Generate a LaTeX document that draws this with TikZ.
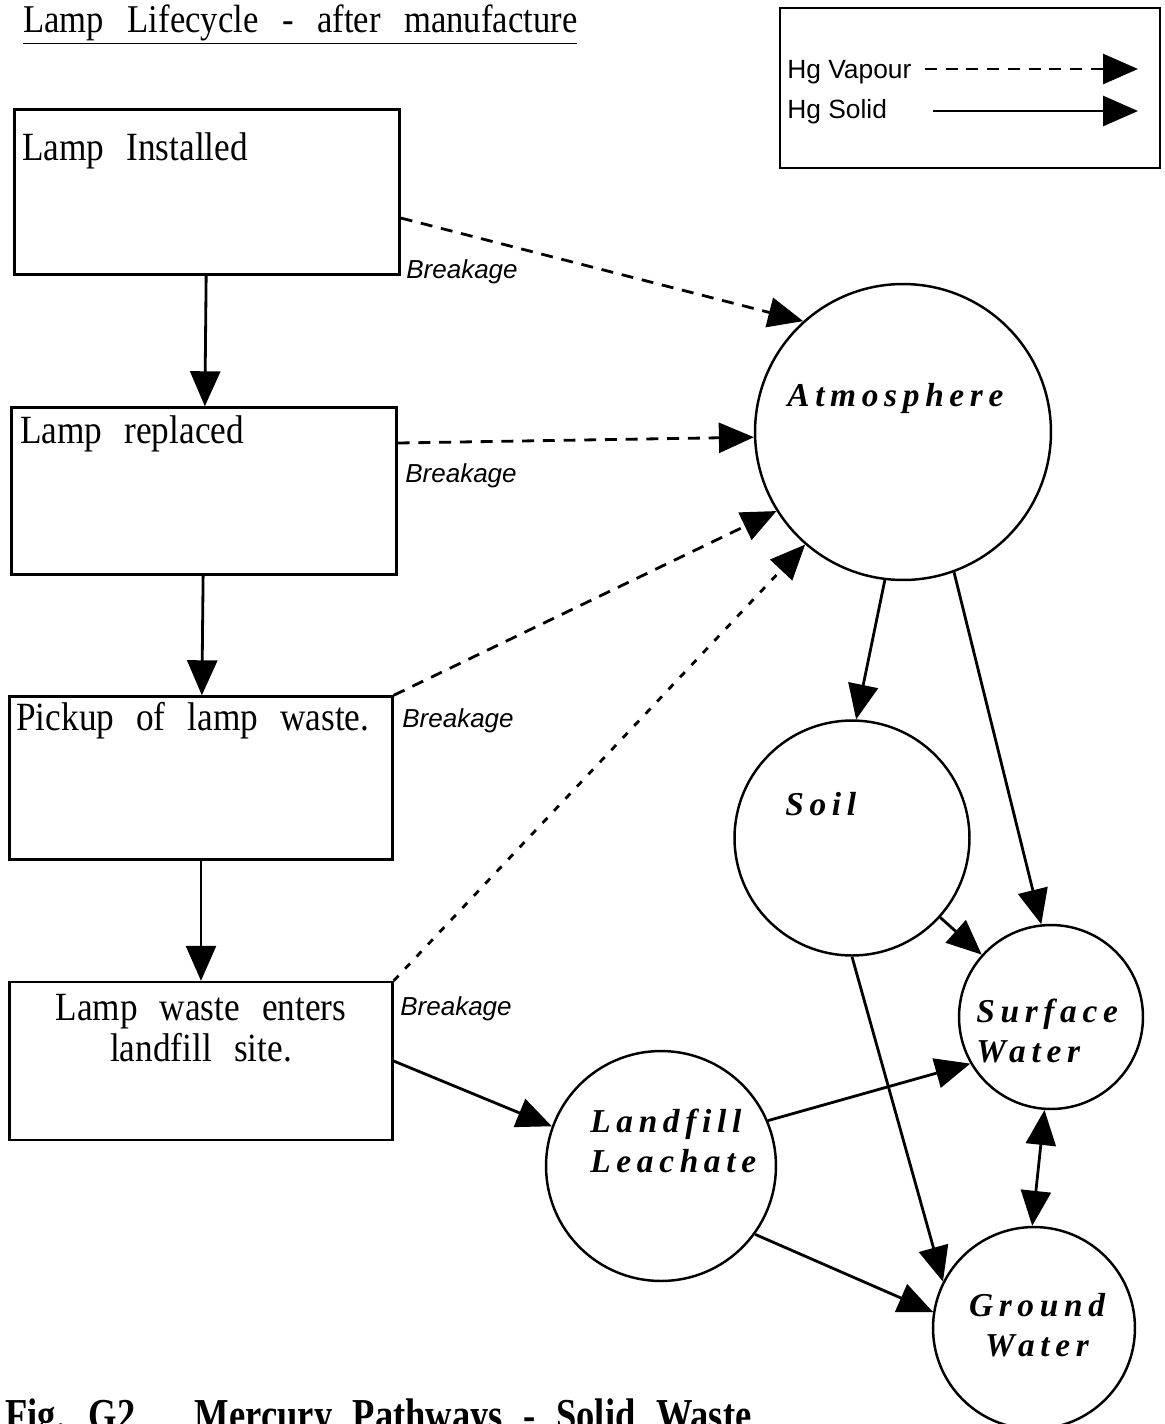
\documentclass[tikz,border=0pt]{standalone}
\usepackage{fontspec}
\setmainfont{Liberation Serif}
\newfontfamily\boxfont{Liberation Serif}[FakeStretch=0.88]
\newfontfamily\poolfont{Liberation Serif}[LetterSpace=17]
\newfontfamily\keyfont{Liberation Sans}
\newfontfamily\capfont{Liberation Serif}[FakeStretch=0.8]
\newcommand\wordgap[1]{\spaceskip #1\relax}
\usetikzlibrary{arrows.meta}
\tikzset{
  lampbox/.style={rectangle, draw, line width=1.4pt, minimum width=7.7cm, inner sep=0pt},
  boxtext/.style={font={\boxfont\fontsize{22.8pt}{23.2pt}\selectfont\wordgap{0.55em}}, inner sep=0pt},
  pool/.style={circle, draw, line width=1.4pt, inner sep=0pt},
  pooltext/.style={font=\poolfont\bfseries\itshape\fontsize{19pt}{22.7pt}\selectfont, inner sep=0pt},
  keytext/.style={font=\keyfont\fontsize{15pt}{17pt}\selectfont, inner sep=0pt, anchor=base west},
  breaktext/.style={keytext, font=\keyfont\itshape\fontsize{14.8pt}{17pt}\selectfont},
  solidarrow/.style={-{Triangle[length=0.7cm,width=0.6cm]}, line width=1.6pt},
  vapourarrow/.style={solidarrow, dash pattern=on 6.8pt off 5pt},
  twowayarrow/.style={{Triangle[length=0.7cm,width=0.6cm]}-{Triangle[length=0.7cm,width=0.6cm]}, line width=1.6pt}
}
\begin{document}
\begin{tikzpicture}[x=0.02cm, y=-0.02cm]
  \useasboundingbox (0,0) rectangle (1165,1424);

  % title and legend
  \node[boxtext, anchor=base west, font={\boxfont\fontsize{22.4pt}{24pt}\selectfont\wordgap{0.6em}}] (title) at (23,32) {\underline{Lamp Lifecycle - after manufacture}};
  \node[rectangle, draw, line width=1.4pt, minimum width=7.6cm, minimum height=3.2cm] (legend) at (970,88) {};
  \node[keytext] (vap) at (787,78) {Hg Vapour};
  \node[keytext] (sol) at (787,118) {Hg Solid};
  \coordinate (vap-a) at (925,69);
  \coordinate (vap-b) at (1138,69);
  \coordinate (sol-a) at (933,111);
  \coordinate (sol-b) at (1138,111);
  \draw[vapourarrow] (vap-a) -- (vap-b);
  \draw[solidarrow] (sol-a) -- (sol-b);

  % lifecycle boxes
  \node[lampbox, minimum height=3.3cm] (installed) at (207,192) {};
  \node[lampbox, minimum height=3.34cm] (replaced) at (204,491) {};
  \node[lampbox, minimum height=3.26cm, minimum width=7.66cm] (pickup) at (201,778) {};
  \node[lampbox, minimum height=3.16cm, minimum width=7.66cm] (landfill) at (201,1061) {};
  \node[boxtext, anchor=base west] (installed-txt) at (22,160) {Lamp Installed};
  \node[boxtext, anchor=base west] (replaced-txt) at (20,443) {Lamp replaced};
  \node[boxtext, anchor=base west] (pickup-txt) at (16,730) {Pickup of lamp waste.};
  \node[boxtext, align=center, anchor=base] (landfill-txt) at (201,1061) {Lamp waste enters\\landfill site.};

  % environmental pools
  \node[pool, minimum size=5.92cm] (atmos) at (903,432) {};
  \node[pool, minimum size=4.7cm] (soil) at (852,838) {};
  \node[pool, minimum size=3.68cm] (surf) at (1051,1017) {};
  \node[pool, minimum size=4.6cm] (leach) at (661,1166) {};
  \node[pool, minimum size=4.04cm] (ground) at (1034,1328) {};
  \node[pooltext, anchor=base west] (atmos-txt) at (787,406) {Atmosphere};
  \node[pooltext, anchor=base west] (soil-txt) at (785,815) {Soil};
  \node[pooltext, anchor=base west, align=left] (surf-txt) at (976,1062) {Surface\\Water};
  \node[pooltext, anchor=base west, align=left] (leach-txt) at (590,1172) {Landfill\\Leachate};
  \node[pooltext, anchor=base, align=center] (ground-txt) at (1037,1356) {Ground\\Water};

  % lifecycle steps
  \draw[solidarrow] (installed) -- (replaced);
  \draw[solidarrow] (replaced) -- (pickup);
  \draw[solidarrow] (pickup) -- (landfill);

  % vapour losses
  \draw[vapourarrow] ([yshift=-0.52cm]installed.east) -- (atmos.132);
  \draw[vapourarrow] ([yshift=0.96cm]replaced.east) -- (atmos.182);
  \draw[vapourarrow] (pickup.north east) -- (atmos.212);
  \draw[vapourarrow, dash pattern=on 4pt off 5.5pt] (landfill.north east) -- (atmos.229);
  \node[breaktext] (brk1) at (406,278) {Breakage};
  \node[breaktext] (brk2) at (405,482) {Breakage};
  \node[breaktext] (brk3) at (402,727) {Breakage};
  \node[breaktext] (brk4) at (400,1015) {Breakage};

  % solid pathways
  \draw[solidarrow] (atmos.263) -- (soil.88);
  \draw[solidarrow] (atmos.290) -- (surf.96);
  \draw[solidarrow] (soil.318) -- (surf.138);
  \draw[solidarrow] (soil.270) -- (ground.153);
  \draw[solidarrow] (landfill.east) -- (leach.160);
  \draw[solidarrow] (leach.23) -- (surf.210);
  \draw[solidarrow] (leach.324) -- (ground.171);
  \draw[twowayarrow] (surf.266) -- (ground.91);

  \node[anchor=base west, inner sep=0pt, font={\capfont\bfseries\fontsize{26pt}{28pt}\selectfont\wordgap{0.45em}}] (caption) at (5,1430) {Fig. G2\hspace{1.3em}Mercury Pathways - Solid Waste};
\end{tikzpicture}
\end{document}
